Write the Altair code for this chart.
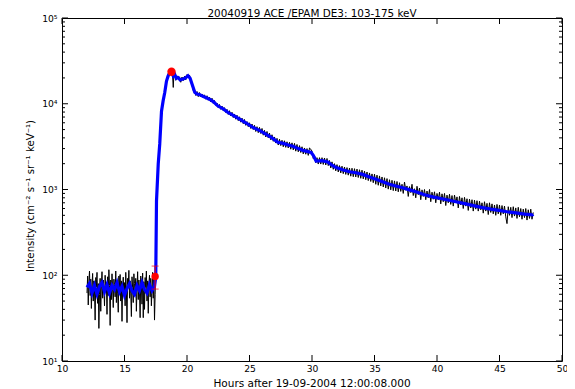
import altair as alt
import numpy as np
import pandas as pd

# ---------------- data ----------------
# raw (black) series: quiet pre-event period, 0.05 h sampling from 12.0 h
pre_start, pre_step = 12.0, 0.05
pre_black = [62, 98, 45, 84, 112, 58, 90, 41, 77, 105,
             50, 86, 66, 30, 94, 73, 108, 47, 80, 24,
             60, 92, 38, 74, 110, 54, 88, 70, 44, 100,
             64, 82, 35, 96, 58, 116, 76, 26, 88, 52,
             104, 68, 42, 90, 78, 56, 112, 48, 84, 62,
             37, 98, 70, 102, 50, 86, 29, 74, 95, 58,
             82, 44, 108, 66, 28, 92, 76, 114, 54, 86,
             62, 33, 96, 72, 48, 104, 80, 58, 92, 38,
             70, 110, 52, 88, 64, 32, 98, 76, 46, 106,
             32, 84, 40, 94, 72, 112, 50, 86, 36, 78,
             100, 56, 92, 44, 70, 108, 54, 90, 30]

# raw (black) series: onset / rise
rise_hours = [17.45, 17.5, 17.55, 17.62, 17.7, 17.78, 17.86, 17.94, 18.02, 18.1,
              18.18, 18.26, 18.34, 18.42, 18.5, 18.58, 18.66, 18.74, 18.82, 18.9, 18.96]
rise_black = [60, 130, 700, 1300, 2100, 3000, 5000, 7800, 9600, 11000,
              12500, 15000, 18000, 20500, 22500, 21500, 24500, 22000, 25000, 15500, 23500]

# raw (black) series: decay, 0.1 h sampling from 19.0 h
decay_start, decay_step = 19.0, 0.1
decay_black = [
    23000, 18800, 21200, 19400, 20600, 17800, 20500, 18600, 20900, 19000,
    21900, 20000, 21600, 18200, 17900, 14200, 14600, 12500, 13900, 12100,
    13500, 12000, 13000, 11700, 12700, 11300, 12400, 11000, 11900, 10500,
    11600, 10100, 10900, 9600, 10200, 9000, 9800, 8600, 9400, 8300,
    9000, 7900, 8600, 7500, 8300, 7200, 7950, 6900, 7600, 6600,
    7350, 6350, 7050, 6100, 6800, 5850, 6550, 5600, 6200, 5400,
    6000, 5150, 5800, 5000, 5600, 4750, 5400, 4600, 5300, 4500,
    5150, 4300, 4900, 4100, 4750, 4000, 4550, 3800, 4350, 3650,
    4100, 3480, 3950, 3300, 3850, 3250, 3750, 3150, 3700, 3100,
    3600, 3050, 3550, 2950, 3500, 2900, 3450, 2800, 3350, 2750,
    3250, 2700, 3150, 2600, 3050, 2580, 3000, 2500, 3050, 2950,
    2800, 2300, 2500, 2050, 2350, 1980, 2350, 1980, 2350, 1960,
    2330, 1930, 2300, 1900, 2180, 1780, 2100, 1720, 2000, 1650,
    1950, 1600, 1900, 1560, 1870, 1530, 1830, 1500, 1800, 1470,
    1780, 1430, 1770, 1410, 1750, 1400, 1730, 1380, 1700, 1350,
    1680, 1330, 1640, 1300, 1600, 1270, 1560, 1240, 1520, 1200,
    1510, 1150, 1470, 1120, 1440, 1100, 1400, 1070, 1370, 1040,
    1340, 1010, 1300, 990, 1280, 970, 1260, 960, 1240, 940,
    1200, 950, 1150, 900, 1220, 980, 1100, 830, 1080, 920,
    1150, 850, 1020, 800, 1090, 870, 1040, 760, 990, 830,
    1000, 760, 960, 800, 1000, 720, 930, 770, 940, 700,
    900, 760, 930, 680, 890, 720, 900, 650, 860, 700,
    880, 670, 850, 640, 860, 700, 820, 610, 830, 660,
    800, 600, 810, 640, 780, 570, 770, 610, 760, 560,
    750, 590, 740, 560, 730, 580, 700, 530, 720, 560,
    690, 510, 700, 540, 680, 520, 660, 500, 670, 520,
    660, 500, 650, 520, 640, 480, 400, 630, 500, 620,
    470, 630, 490, 610, 460, 620, 480, 600, 450, 590,
    470, 600, 440, 580, 460, 590, 450, 540]

# smoothed (blue) series
smooth_hours = [12.0, 12.2, 12.4, 12.6, 12.8, 13.0, 13.2, 13.4, 13.6, 13.8,
                14.0, 14.2, 14.4, 14.6, 14.8, 15.0, 15.2, 15.4, 15.6, 15.8,
                16.0, 16.2, 16.4, 16.6, 16.8, 17.0, 17.2, 17.4,
                17.5, 17.56, 17.7, 17.82, 17.96, 18.09, 18.22, 18.36, 18.49, 18.6,
                18.75, 18.9, 19.02, 19.15, 19.29, 19.45, 19.68, 19.85, 20.08, 20.25,
                20.4, 20.62, 20.8, 21.02, 21.4, 21.8, 22.1, 22.48, 22.9, 23.28,
                23.7, 24.21, 24.7, 25.27, 25.8, 26.34, 26.8, 27.27, 27.7, 28.1,
                28.47, 28.9, 29.27, 29.6, 29.93, 30.1, 30.33, 30.8, 31.26, 31.6,
                31.93, 32.5, 33.0, 33.5, 34.06, 34.6, 35.12, 35.6, 36.19, 36.7,
                37.25, 37.8, 38.32, 39.0, 39.65, 40.3, 40.98, 41.6, 42.31, 43.0,
                43.64, 44.3, 44.97, 45.6, 46.3, 47.0, 47.63, 47.7]
smooth_flux = [72, 80, 62, 76, 60, 74, 82, 64, 78, 62,
               76, 68, 82, 64, 74, 58, 70, 80, 66, 60,
               76, 66, 82, 68, 62, 78, 66, 74,
               95, 735, 2000, 3400, 8200, 10800, 13500, 18400, 21100, 22500,
               23500, 21000, 22000, 19800, 20200, 19000, 19400, 19900, 21200, 19800,
               17000, 13600, 13000, 12700, 12000, 11300, 10600, 9400, 8700, 7900,
               7300, 6600, 6000, 5300, 4900, 4400, 4000, 3550, 3450, 3300,
               3200, 3000, 2860, 2780, 2700, 2500, 2150, 2170, 2100, 1920,
               1800, 1690, 1610, 1570, 1500, 1400, 1320, 1240, 1150, 1100,
               1050, 990, 940, 870, 820, 785, 750, 715, 680, 645,
               615, 590, 570, 550, 535, 516, 505, 515]

# onset marker with error bar, and peak marker
onset_hour = [17.45]
onset_flux = [97]
onset_lo = [69]
onset_hi = [128]
peak_hour = [18.76]
peak_flux = [23650]

title_text = ["20040919 ACE /EPAM DE3: 103-175 keV"]
x_title = ["Hours after 19-09-2004 12:00:08.000"]
y_title = ["Intensity (cm⁻² s⁻¹ sr⁻¹ keV⁻¹)"]

# axis ticks
x_ticks = [10, 15, 20, 25, 30, 35, 40, 45, 50]
y_major = [10, 100, 1000, 10000, 100000]
y_minor = [m * 10 ** d for d in range(1, 5) for m in range(2, 10)]

# ---------------- tables ----------------
pre_hours = list(np.round(pre_start + pre_step * np.arange(len(pre_black)), 3))
decay_hours = list(np.round(decay_start + decay_step * np.arange(len(decay_black)), 3))
df_black = pd.DataFrame({"h": pre_hours + rise_hours + decay_hours,
                         "v": pre_black + rise_black + decay_black})
df_blue = pd.DataFrame({"h": smooth_hours, "v": smooth_flux})
df_onset = pd.DataFrame({"h": onset_hour, "v": onset_flux, "lo": onset_lo, "hi": onset_hi})
df_caps = pd.DataFrame({"h": onset_hour * 2, "v": onset_lo + onset_hi})
df_peak = pd.DataFrame({"h": peak_hour, "v": peak_flux})
df_xt = pd.DataFrame({"h": x_ticks})
df_ymaj = pd.DataFrame({"v": y_major})
df_ymin = pd.DataFrame({"v": y_minor})

W, H = 500, 343
FONT = "DejaVu Sans"

xs = alt.Scale(domain=[10, 50], nice=False, zero=False)
ys = alt.Scale(type="log", domain=[10, 100000], nice=False)

x_axis = alt.Axis(values=x_ticks, format="d", ticks=False, domain=False, grid=False,
                  labelFlush=False, labelOverlap=False, title=None,
                  labelFont=FONT, labelFontSize=9.2, labelColor="black", labelPadding=3)
y_axis = alt.Axis(values=y_major, ticks=False, domain=False, grid=False,
                  labelFlush=False, labelOverlap=False, title=None,
                  labelExpr="'10' + ['¹','²','³','⁴','⁵'][round(log(datum.value)/LN10) - 1]",
                  labelFont=FONT, labelFontSize=9.2, labelColor="black", labelPadding=5)

black = alt.Chart(df_black).mark_line(color="#000000", strokeWidth=1, clip=True).encode(
    x=alt.X("h:Q", scale=xs, axis=x_axis),
    y=alt.Y("v:Q", scale=ys, axis=y_axis),
)
blue = alt.Chart(df_blue).mark_line(color="#0000ff", strokeWidth=3.2, clip=True).encode(
    x=alt.X("h:Q", scale=xs),
    y=alt.Y("v:Q", scale=ys),
)
err = alt.Chart(df_onset).mark_rule(color="#ff0000", strokeWidth=1).encode(
    x=alt.X("h:Q", scale=xs),
    y=alt.Y("lo:Q", scale=ys),
    y2="hi:Q",
)
caps = alt.Chart(df_caps).mark_tick(color="#ff0000", orient="horizontal", size=7, thickness=1).encode(
    x=alt.X("h:Q", scale=xs),
    y=alt.Y("v:Q", scale=ys),
)
onset = alt.Chart(df_onset).mark_circle(color="#ff0000", size=55, opacity=1).encode(
    x=alt.X("h:Q", scale=xs),
    y=alt.Y("v:Q", scale=ys),
)
peak = alt.Chart(df_peak).mark_circle(color="#ff0000", size=70, opacity=1).encode(
    x=alt.X("h:Q", scale=xs),
    y=alt.Y("v:Q", scale=ys),
)

def label(text, size, x, y, angle=0, baseline="alphabetic"):
    return alt.Chart(pd.DataFrame({"t": text})).mark_text(
        font=FONT, fontSize=size, color="black", align="center",
        baseline=baseline, angle=angle).encode(
        text="t:N", x=alt.value(x), y=alt.value(y))

titles = [label(title_text, 10.4, W / 2, -1.3),
          label(x_title, 10.5, W / 2, H + 25.5),
          label(y_title, 10.2, -31, 178, angle=270, baseline="middle")]

def xtick(y0, y1):
    return alt.Chart(df_xt).mark_rule(color="black", strokeWidth=1).encode(
        x=alt.X("h:Q", scale=xs), y=alt.value(y0), y2=alt.value(y1))

def ytick(df, x0, x1):
    return alt.Chart(df).mark_rule(color="black", strokeWidth=1).encode(
        y=alt.Y("v:Q", scale=ys), x=alt.value(x0), x2=alt.value(x1))

ticks = [xtick(H, H - 6), xtick(0, 6),
         ytick(df_ymaj, 0, 6), ytick(df_ymaj, W, W - 6),
         ytick(df_ymin, 0, 3), ytick(df_ymin, W, W - 3)]

chart = alt.layer(black, blue, err, caps, onset, peak, *titles, *ticks).properties(
    width=W, height=H,
    autosize=alt.AutoSizeParams(type="none"),
    padding={"left": 54, "top": 10, "right": 5, "bottom": 27},
    background="white",
).configure_view(stroke="black", strokeWidth=1)

chart.save("out.html", embed_options={"renderer": "svg", "actions": False})
